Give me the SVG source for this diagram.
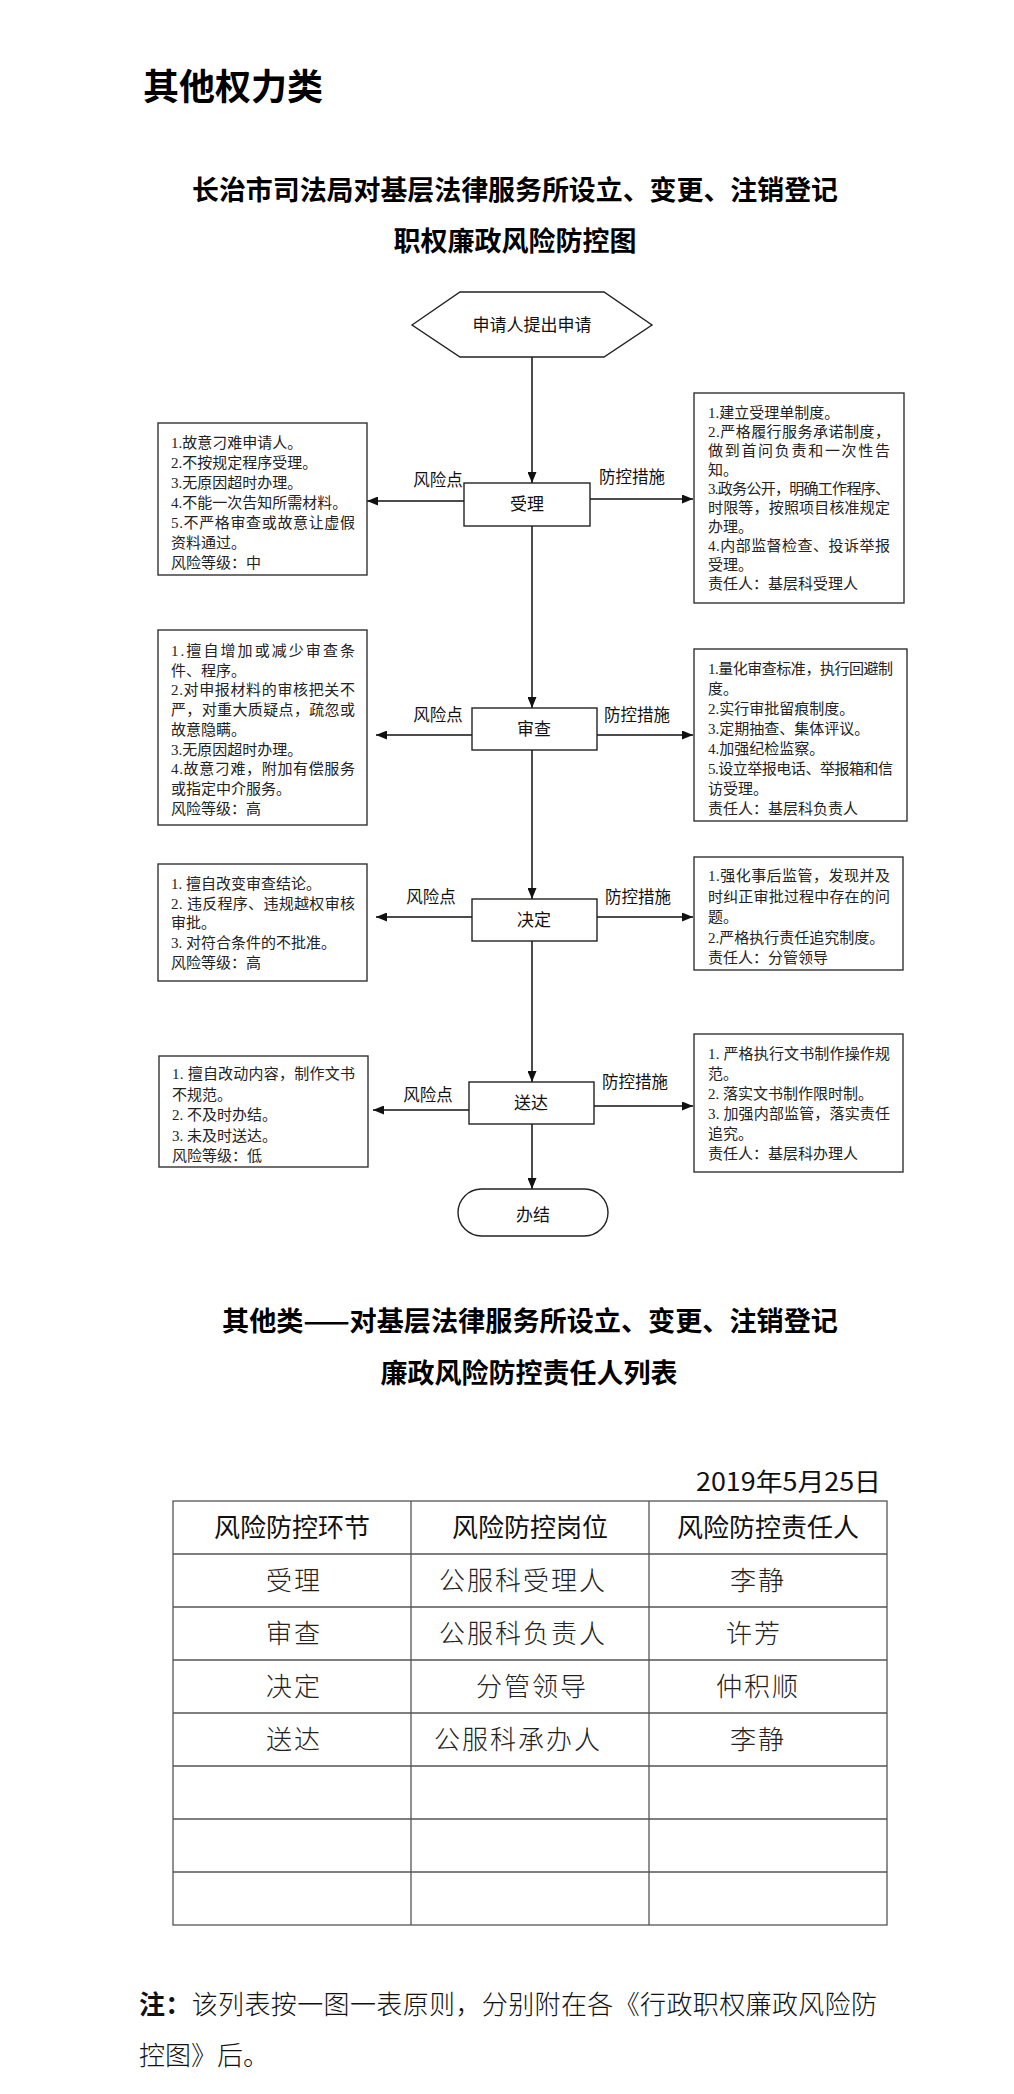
<svg xmlns="http://www.w3.org/2000/svg" width="1014" height="2094" viewBox="0 0 1014 2094">
<style>
.bg{fill:#ffffff}
.title{font-family:"Noto Sans CJK SC","Liberation Sans",sans-serif;font-weight:bold;fill:#000}
.box{fill:#fff;stroke:#333;stroke-width:1.4}
.node{fill:#fff;stroke:#222;stroke-width:1.4}
.bt{font-family:"Liberation Serif","Noto Sans CJK SC",serif;font-size:15px;fill:#222}
.lbl{font-family:"Liberation Serif","Noto Sans CJK SC",serif;font-size:16.5px;fill:#111}
.nt{font-family:"Liberation Serif","Noto Sans CJK SC",serif;font-size:17px;fill:#111;text-anchor:middle}
.conn{stroke:#111;stroke-width:1.5;fill:none}
.grid{stroke:#555;stroke-width:1.3;fill:none}
.th{font-family:"Noto Sans CJK SC",sans-serif;font-size:26px;fill:#111;text-anchor:middle}
.td{font-family:"Noto Sans CJK SC",sans-serif;font-weight:300;font-size:26px;fill:#222;text-anchor:middle;letter-spacing:2px}
.note{font-family:"Noto Sans CJK SC",sans-serif;font-weight:300;font-size:26px;fill:#111}
</style>
<defs>
<marker id="ah" markerUnits="userSpaceOnUse" markerWidth="11" markerHeight="9" refX="11" refY="4.5" orient="auto">
<path d="M0,0 L11,4.5 L0,9 z" fill="#111"/>
</marker>
</defs>
<rect class="bg" x="0" y="0" width="1014" height="2094"/>

<text class="title" x="143" y="100" font-size="36">其他权力类</text>
<text class="title" x="515" y="200" font-size="27" text-anchor="middle" textLength="646" lengthAdjust="spacingAndGlyphs">长治市司法局对基层法律服务所设立、变更、注销登记</text>
<text class="title" x="515" y="251" font-size="27" text-anchor="middle">职权廉政风险防控图</text>

<g id="connectors">
<line class="conn" x1="532" y1="357" x2="532" y2="483" marker-end="url(#ah)"/>
<line class="conn" x1="532" y1="526" x2="532" y2="708" marker-end="url(#ah)"/>
<line class="conn" x1="532" y1="750" x2="532" y2="899" marker-end="url(#ah)"/>
<line class="conn" x1="532" y1="941" x2="532" y2="1082" marker-end="url(#ah)"/>
<line class="conn" x1="532" y1="1124" x2="532" y2="1189" marker-end="url(#ah)"/>
<line class="conn" x1="464" y1="501" x2="367" y2="501" marker-end="url(#ah)"/>
<line class="conn" x1="590" y1="499" x2="693" y2="499" marker-end="url(#ah)"/>
<line class="conn" x1="472" y1="735" x2="376" y2="735" marker-end="url(#ah)"/>
<line class="conn" x1="597" y1="735" x2="693" y2="735" marker-end="url(#ah)"/>
<line class="conn" x1="472" y1="917" x2="376" y2="917" marker-end="url(#ah)"/>
<line class="conn" x1="597" y1="917" x2="693" y2="917" marker-end="url(#ah)"/>
<line class="conn" x1="469" y1="1110" x2="373" y2="1110" marker-end="url(#ah)"/>
<line class="conn" x1="594" y1="1106" x2="693" y2="1106" marker-end="url(#ah)"/>
<text class="lbl" x="438" y="486" text-anchor="middle">风险点</text>
<text class="lbl" x="632" y="483" text-anchor="middle">防控措施</text>
<text class="lbl" x="438" y="721" text-anchor="middle">风险点</text>
<text class="lbl" x="637" y="721" text-anchor="middle">防控措施</text>
<text class="lbl" x="431" y="903" text-anchor="middle">风险点</text>
<text class="lbl" x="638" y="903" text-anchor="middle">防控措施</text>
<text class="lbl" x="428" y="1101" text-anchor="middle">风险点</text>
<text class="lbl" x="635" y="1088" text-anchor="middle">防控措施</text>
</g>

<g id="start">
<polygon class="node" points="412,325 460,292 604,292 652,325 604,357 460,357"/>
<text class="nt" x="532" y="331">申请人提出申请</text>
</g>

<g id="shouli">
<rect class="node" x="464" y="483" width="126" height="43"/>
<text class="nt" x="527" y="510">受理</text>
</g>
<g id="shencha">
<rect class="node" x="472" y="708" width="125" height="42"/>
<text class="nt" x="534" y="735">审查</text>
</g>
<g id="jueding">
<rect class="node" x="472" y="899" width="125" height="42"/>
<text class="nt" x="534" y="926">决定</text>
</g>
<g id="songda">
<rect class="node" x="469" y="1082" width="125" height="42"/>
<text class="nt" x="531" y="1109">送达</text>
</g>
<g id="banjie">
<rect class="node" x="458" y="1189" width="150" height="47" rx="23.5" ry="23.5"/>
<text class="nt" x="533" y="1221">办结</text>
</g>

<g id="risk1">
<rect class="box" x="158" y="423" width="209" height="152"/>
<text class="bt" x="171" y="448">1.故意刁难申请人。</text>
<text class="bt" x="171" y="468">2.不按规定程序受理。</text>
<text class="bt" x="171" y="488">3.无原因超时办理。</text>
<text class="bt" x="171" y="508">4.不能一次告知所需材料。</text>
<text class="bt" x="171" y="528" textLength="184" lengthAdjust="spacing">5.不严格审查或故意让虚假</text>
<text class="bt" x="171" y="548">资料通过。</text>
<text class="bt" x="171" y="568">风险等级：中</text>
</g>

<g id="ctrl1">
<rect class="box" x="694" y="393" width="210" height="210"/>
<text class="bt" x="708" y="418">1.建立受理单制度。</text>
<text class="bt" x="708" y="437" textLength="182" lengthAdjust="spacing">2.严格履行服务承诺制度，</text>
<text class="bt" x="708" y="456" textLength="182" lengthAdjust="spacing">做到首问负责和一次性告</text>
<text class="bt" x="708" y="475">知。</text>
<text class="bt" x="708" y="494" textLength="182" lengthAdjust="spacing">3.政务公开，明确工作程序、</text>
<text class="bt" x="708" y="513" textLength="182" lengthAdjust="spacing">时限等，按照项目核准规定</text>
<text class="bt" x="708" y="532">办理。</text>
<text class="bt" x="708" y="551" textLength="182" lengthAdjust="spacing">4.内部监督检查、投诉举报</text>
<text class="bt" x="708" y="570">受理。</text>
<text class="bt" x="708" y="589">责任人：基层科受理人</text>
</g>

<g id="risk2">
<rect class="box" x="158" y="630" width="209" height="195"/>
<text class="bt" x="171" y="656" textLength="184" lengthAdjust="spacing">1.擅自增加或减少审查条</text>
<text class="bt" x="171" y="676">件、程序。</text>
<text class="bt" x="171" y="695" textLength="184" lengthAdjust="spacing">2.对申报材料的审核把关不</text>
<text class="bt" x="171" y="715" textLength="184" lengthAdjust="spacing">严，对重大质疑点，疏忽或</text>
<text class="bt" x="171" y="735">故意隐瞒。</text>
<text class="bt" x="171" y="755">3.无原因超时办理。</text>
<text class="bt" x="171" y="774" textLength="184" lengthAdjust="spacing">4.故意刁难，附加有偿服务</text>
<text class="bt" x="171" y="794">或指定中介服务。</text>
<text class="bt" x="171" y="814">风险等级：高</text>
</g>

<g id="ctrl2">
<rect class="box" x="694" y="649" width="213" height="172"/>
<text class="bt" x="708" y="674" textLength="185" lengthAdjust="spacing">1.量化审查标准，执行回避制</text>
<text class="bt" x="708" y="694">度。</text>
<text class="bt" x="708" y="714">2.实行审批留痕制度。</text>
<text class="bt" x="708" y="734">3.定期抽查、集体评议。</text>
<text class="bt" x="708" y="754">4.加强纪检监察。</text>
<text class="bt" x="708" y="774" textLength="185" lengthAdjust="spacing">5.设立举报电话、举报箱和信</text>
<text class="bt" x="708" y="794">访受理。</text>
<text class="bt" x="708" y="814">责任人：基层科负责人</text>
</g>

<g id="risk3">
<rect class="box" x="158" y="864" width="209" height="117"/>
<text class="bt" x="171" y="889">1. 擅自改变审查结论。</text>
<text class="bt" x="171" y="909" textLength="184" lengthAdjust="spacing">2. 违反程序、违规越权审核</text>
<text class="bt" x="171" y="928">审批。</text>
<text class="bt" x="171" y="948">3. 对符合条件的不批准。</text>
<text class="bt" x="171" y="968">风险等级：高</text>
</g>

<g id="ctrl3">
<rect class="box" x="694" y="857" width="209" height="113"/>
<text class="bt" x="708" y="881" textLength="182" lengthAdjust="spacing">1.强化事后监管，发现并及</text>
<text class="bt" x="708" y="902" textLength="182" lengthAdjust="spacing">时纠正审批过程中存在的问</text>
<text class="bt" x="708" y="922">题。</text>
<text class="bt" x="708" y="943">2.严格执行责任追究制度。</text>
<text class="bt" x="708" y="963">责任人：分管领导</text>
</g>

<g id="risk4">
<rect class="box" x="159" y="1056" width="209" height="111"/>
<text class="bt" x="172" y="1079" textLength="183" lengthAdjust="spacing">1. 擅自改动内容，制作文书</text>
<text class="bt" x="172" y="1100">不规范。</text>
<text class="bt" x="172" y="1120">2. 不及时办结。</text>
<text class="bt" x="172" y="1141">3. 未及时送达。</text>
<text class="bt" x="172" y="1161">风险等级：低</text>
</g>

<g id="ctrl4">
<rect class="box" x="694" y="1034" width="209" height="138"/>
<text class="bt" x="708" y="1059" textLength="182" lengthAdjust="spacing">1. 严格执行文书制作操作规</text>
<text class="bt" x="708" y="1079">范。</text>
<text class="bt" x="708" y="1099">2. 落实文书制作限时制。</text>
<text class="bt" x="708" y="1119" textLength="182" lengthAdjust="spacing">3. 加强内部监管，落实责任</text>
<text class="bt" x="708" y="1139">追究。</text>
<text class="bt" x="708" y="1159">责任人：基层科办理人</text>
</g>

<text class="title" x="530" y="1331" font-size="27" text-anchor="middle" textLength="616" lengthAdjust="spacingAndGlyphs">其他类——对基层法律服务所设立、变更、注销登记</text>
<text class="title" x="529" y="1383" font-size="27" text-anchor="middle">廉政风险防控责任人列表</text>

<text x="881" y="1491" font-family="Noto Sans CJK SC,sans-serif" font-size="25" fill="#111" text-anchor="end" textLength="185" lengthAdjust="spacingAndGlyphs">2019年5月25日</text>

<g id="table">
<rect class="grid" x="173" y="1501" width="714" height="424"/>
<line class="grid" x1="411" y1="1501" x2="411" y2="1925"/>
<line class="grid" x1="649" y1="1501" x2="649" y2="1925"/>
<line class="grid" x1="173" y1="1554" x2="887" y2="1554"/>
<line class="grid" x1="173" y1="1607" x2="887" y2="1607"/>
<line class="grid" x1="173" y1="1660" x2="887" y2="1660"/>
<line class="grid" x1="173" y1="1713" x2="887" y2="1713"/>
<line class="grid" x1="173" y1="1766" x2="887" y2="1766"/>
<line class="grid" x1="173" y1="1819" x2="887" y2="1819"/>
<line class="grid" x1="173" y1="1872" x2="887" y2="1872"/>
<text class="th" x="292" y="1537">风险防控环节</text>
<text class="th" x="530" y="1537">风险防控岗位</text>
<text class="th" x="768" y="1537">风险防控责任人</text>
<text class="td" x="294" y="1590">受理</text>
<text class="td" x="523" y="1590">公服科受理人</text>
<text class="td" x="758" y="1590">李静</text>
<text class="td" x="294" y="1643">审查</text>
<text class="td" x="523" y="1643">公服科负责人</text>
<text class="td" x="754" y="1643">许芳</text>
<text class="td" x="294" y="1696">决定</text>
<text class="td" x="532" y="1696">分管领导</text>
<text class="td" x="758" y="1696">仲积顺</text>
<text class="td" x="294" y="1749">送达</text>
<text class="td" x="518" y="1749">公服科承办人</text>
<text class="td" x="758" y="1749">李静</text>
</g>

<text class="note" x="139" y="2014" textLength="738" lengthAdjust="spacing"><tspan font-weight="bold">注：</tspan>该列表按一图一表原则，分别附在各《行政职权廉政风险防</text>
<text class="note" x="139" y="2065">控图》后。</text>
</svg>
